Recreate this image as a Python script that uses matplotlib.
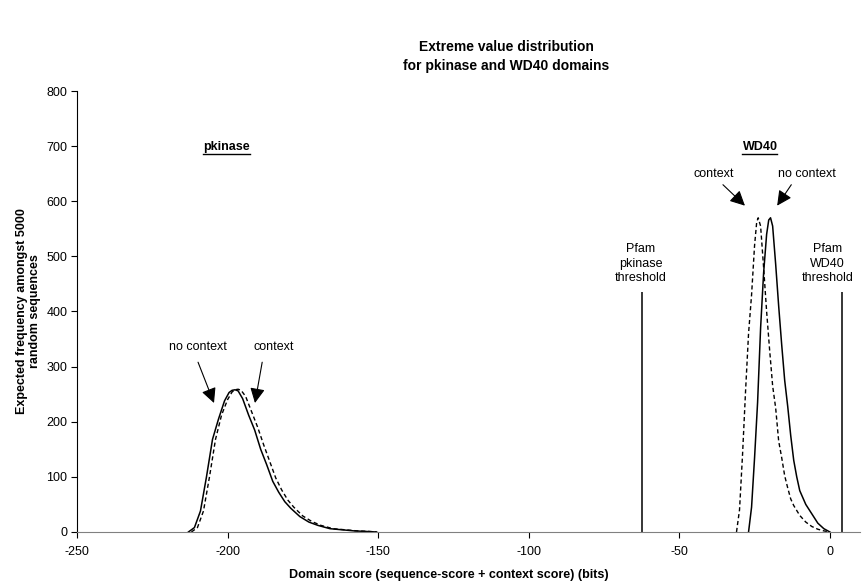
import matplotlib
matplotlib.use("Agg")
import matplotlib.pyplot as plt
from matplotlib import font_manager
from matplotlib.lines import Line2D

# pkinase domain scores (bits) and expected frequencies
pk_x_nocontext = [-213, -211, -209, -207, -205, -203, -201, -199.5, -198.5, -197.5, -196.5,
                  -195, -193, -191, -189, -187, -185, -183, -181, -179, -176, -173, -170,
                  -166, -162, -158, -154, -150.5]
pk_y_nocontext = [0, 8, 38, 100, 168, 205, 238, 253, 257, 258, 256,
                  242, 212, 185, 150, 122, 92, 72, 55, 43, 28, 18, 12,
                  6, 4, 2, 1, 0]
pk_x_context = [-212, -210, -208, -206, -204, -202, -200, -198.5, -197.5, -196.5, -195.5,
                -194, -192, -190, -188, -186, -184, -182, -180, -178, -175, -172, -169,
                -165, -161, -157, -153, -150.5]
pk_y_context = [0, 8, 38, 100, 168, 212, 240, 254, 258, 259, 257,
                246, 218, 190, 158, 128, 98, 76, 58, 45, 29, 19, 12,
                6, 4, 2, 1, 0]

# WD40 domain scores (bits) and expected frequencies
wd_x_nocontext = [-27, -26, -25, -24, -23, -22, -21, -20.3, -19.7, -19, -18, -17, -16,
                  -15, -14, -13, -12, -11, -10, -8, -6, -4, -2, 0]
wd_y_nocontext = [0, 45, 135, 235, 370, 470, 540, 566, 570, 555, 486, 410, 340,
                  275, 228, 175, 130, 100, 75, 50, 33, 16, 6, 0]
wd_x_context = [-31, -30, -29, -28, -27, -26, -25, -24.3, -23.8, -23, -22, -21, -20,
                -19, -18, -17, -16, -15, -14, -13, -12, -10, -8, -6, -4, -2, 0]
wd_y_context = [0, 40, 140, 255, 360, 430, 520, 562, 570, 555, 480, 400, 330,
                265, 225, 165, 135, 102, 80, 60, 48, 30, 18, 10, 5, 2, 0]

# Pfam gathering thresholds
threshold_x = [-62.5, 4.1]
threshold_top = 435


def pick_font(names):
    have = {f.name for f in font_manager.fontManager.ttflist}
    fams = [n for n in names if n in have]
    return fams + ["DejaVu Sans"]


plt.rcParams["font.family"] = pick_font(["Liberation Sans Narrow", "Liberation Sans", "Arimo"])
plt.rcParams["axes.unicode_minus"] = False

fig = plt.figure(figsize=(8.63, 5.83), dpi=100)
ax = fig.add_axes([0.0892, 0.0875, 0.9073, 0.7564])

ax.plot(pk_x_nocontext, pk_y_nocontext, color="black", lw=1.1)
ax.plot(pk_x_context, pk_y_context, color="black", lw=1.0, ls=(0, (3, 2)))
ax.plot(wd_x_nocontext, wd_y_nocontext, color="black", lw=1.1)
ax.plot(wd_x_context, wd_y_context, color="black", lw=1.0, ls=(0, (3, 2)))

ax.vlines(threshold_x, 0, threshold_top, color="black", lw=1.1)
ax.text(-62.8, threshold_top + 15, "Pfam\npkinase\nthreshold", ha="center", va="bottom",
        fontsize=9, linespacing=1.25)
ax.text(-0.8, threshold_top + 15, "Pfam\nWD40\nthreshold", ha="center", va="bottom",
        fontsize=9, linespacing=1.25)

# domain headings (underlined below)
heads = [ax.text(-200.3, 699, "pkinase", ha="center", va="center", fontsize=9, fontweight="bold"),
         ax.text(-23.2, 699, "WD40", ha="center", va="center", fontsize=9, fontweight="bold")]

arrow = dict(arrowstyle="-|>,head_length=0.5,head_width=0.25", color="black", lw=0.8,
             mutation_scale=18, shrinkA=0, shrinkB=0)
ax.text(-209.8, 335, "no context", ha="center", va="center", fontsize=9)
ax.annotate("", xy=(-204.5, 234), xytext=(-209.8, 308), arrowprops=arrow)
ax.text(-184.8, 335, "context", ha="center", va="center", fontsize=9)
ax.annotate("", xy=(-190.9, 234), xytext=(-188.5, 308), arrowprops=arrow)

ax.text(-38.5, 649, "context", ha="center", va="center", fontsize=9)
ax.annotate("", xy=(-28.2, 592), xytext=(-35.5, 630), arrowprops=arrow)
ax.text(-7.6, 649, "no context", ha="center", va="center", fontsize=9)
ax.annotate("", xy=(-17.5, 592), xytext=(-12.8, 630), arrowprops=arrow)

ax.set_xlim(-250, 10)
ax.set_ylim(0, 800)
ax.set_xticks([-250, -200, -150, -100, -50, 0])
ax.set_yticks(range(0, 801, 100))
ax.spines["top"].set_visible(False)
ax.spines["right"].set_visible(False)
ax.spines["left"].set_color("black")
ax.spines["bottom"].set_color("#808080")
ax.tick_params(axis="both", direction="out", length=4, width=0.8, labelsize=9, pad=3)
ax.tick_params(axis="x", pad=6)

ax.set_ylabel("Expected frequency amongst 5000\nrandom sequences", fontsize=9,
              fontweight="bold", labelpad=4, linespacing=1.1)
fig.text(0.52, 0.013, "Domain score (sequence-score + context score) (bits)",
         ha="center", va="center", fontsize=9, fontweight="bold")
fig.text(0.587, 0.903, "Extreme value distribution\nfor pkinase and WD40 domains",
         ha="center", va="center", fontsize=10, fontweight="bold", linespacing=1.5)

fig.canvas.draw()
r = fig.canvas.get_renderer()
inv = fig.transFigure.inverted()
for t in heads:
    bb = t.get_window_extent(renderer=r)
    (x0, y0), (x1, _) = inv.transform([(bb.x0, bb.y0 - 1), (bb.x1, bb.y0)])
    fig.add_artist(Line2D([x0, x1], [y0, y0], color="black", lw=1.0, transform=fig.transFigure))

fig.savefig("out.png", dpi=100)
